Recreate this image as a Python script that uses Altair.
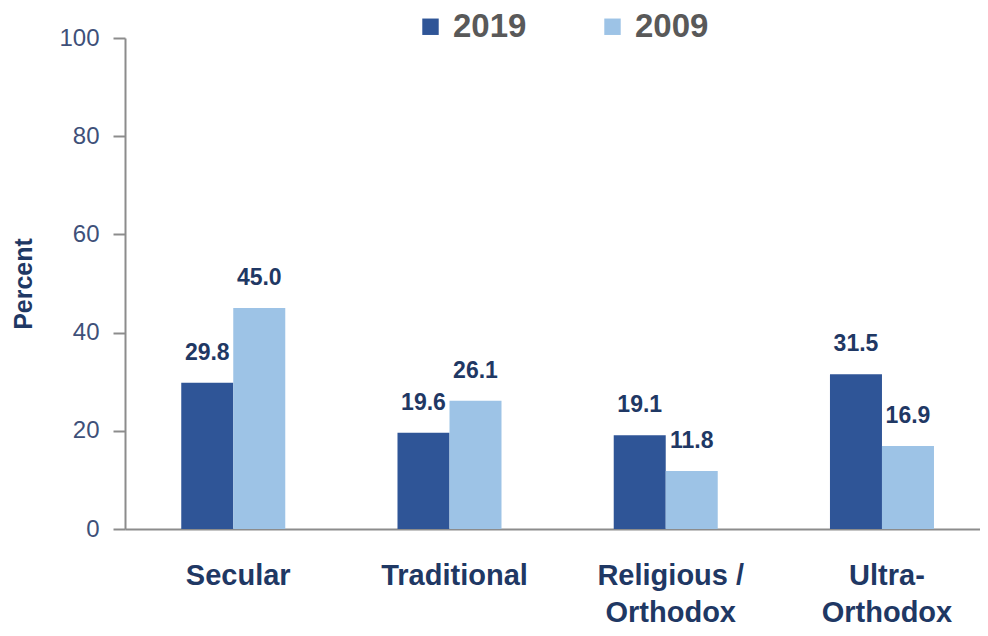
import altair as alt
import pandas as pd

categories = ["Secular", "Traditional", "Religious /|Orthodox", "Ultra-|Orthodox"]
years = ["2019", "2009"]
values_2019 = [29.8, 19.6, 19.1, 31.5]
values_2009 = [45.0, 26.1, 11.8, 16.9]

rows = []
for c, v in zip(categories, values_2019):
    rows.append({"category": c, "year": "2019", "value": v})
for c, v in zip(categories, values_2009):
    rows.append({"category": c, "year": "2009", "value": v})
df = pd.DataFrame(rows)

navy = "#1F3864"
x = alt.X("category:N", sort=categories, title=None,
          scale=alt.Scale(paddingInner=0.519, paddingOuter=0.2365, align=0.55),
          axis=alt.Axis(labelExpr="split(datum.label, '|')", labelFont="Liberation Sans",
                        labelFontSize=29, labelFontWeight="bold", labelColor=navy,
                        labelPadding=32, labelLineHeight=37, labelOffset=5, ticks=False,
                        domainColor="#8C8C8C", domainWidth=2, labelAngle=0))
xo = alt.XOffset("year:N", sort=years, scale=alt.Scale(paddingInner=0, paddingOuter=0))

base = alt.Chart(df).encode(x=x, xOffset=xo)

bars = base.mark_bar().encode(
    y=alt.Y("value:Q", scale=alt.Scale(domain=[0, 100]), title="Percent",
            axis=alt.Axis(values=[0, 20, 40, 60, 80, 100], grid=False,
                          labelFont="Liberation Sans", labelFontSize=24, labelColor="#3E5079",
                          labelPadding=14, tickSize=12, tickColor="#8C8C8C", tickWidth=2,
                          domainColor="#8C8C8C", domainWidth=2,
                          titleFont="Liberation Sans", titleFontSize=25, titleFontWeight="bold",
                          titleColor=navy, titlePadding=22)),
    color=alt.Color("year:N", sort=years,
                    scale=alt.Scale(domain=years, range=["#2F5597", "#9DC3E6"]),
                    legend=alt.Legend(title=None, orient="none", direction="horizontal",
                                      legendX=289, legendY=-28, symbolType="square",
                                      symbolSize=270, symbolStrokeWidth=0,
                                      labelFont="Liberation Sans", labelFontSize=33,
                                      labelFontWeight="bold", labelColor="#595959",
                                      labelOffset=6, columnPadding=69, padding=0)),
)

labels = base.mark_text(font="Liberation Sans", fontSize=23, fontWeight="bold",
                        color=navy, baseline="alphabetic", dy=-23).encode(
    y=alt.Y("value:Q"),
    text=alt.Text("value:Q", format=".1f"),
)

chart = (bars + labels).properties(
    width=855, height=491,
    autosize=alt.AutoSizeParams(type="none"),
    padding={"left": 117, "top": 30, "right": 0, "bottom": 99},
).configure_view(stroke=None)

chart.save("out.html", embed_options={"renderer": "svg", "actions": False})
